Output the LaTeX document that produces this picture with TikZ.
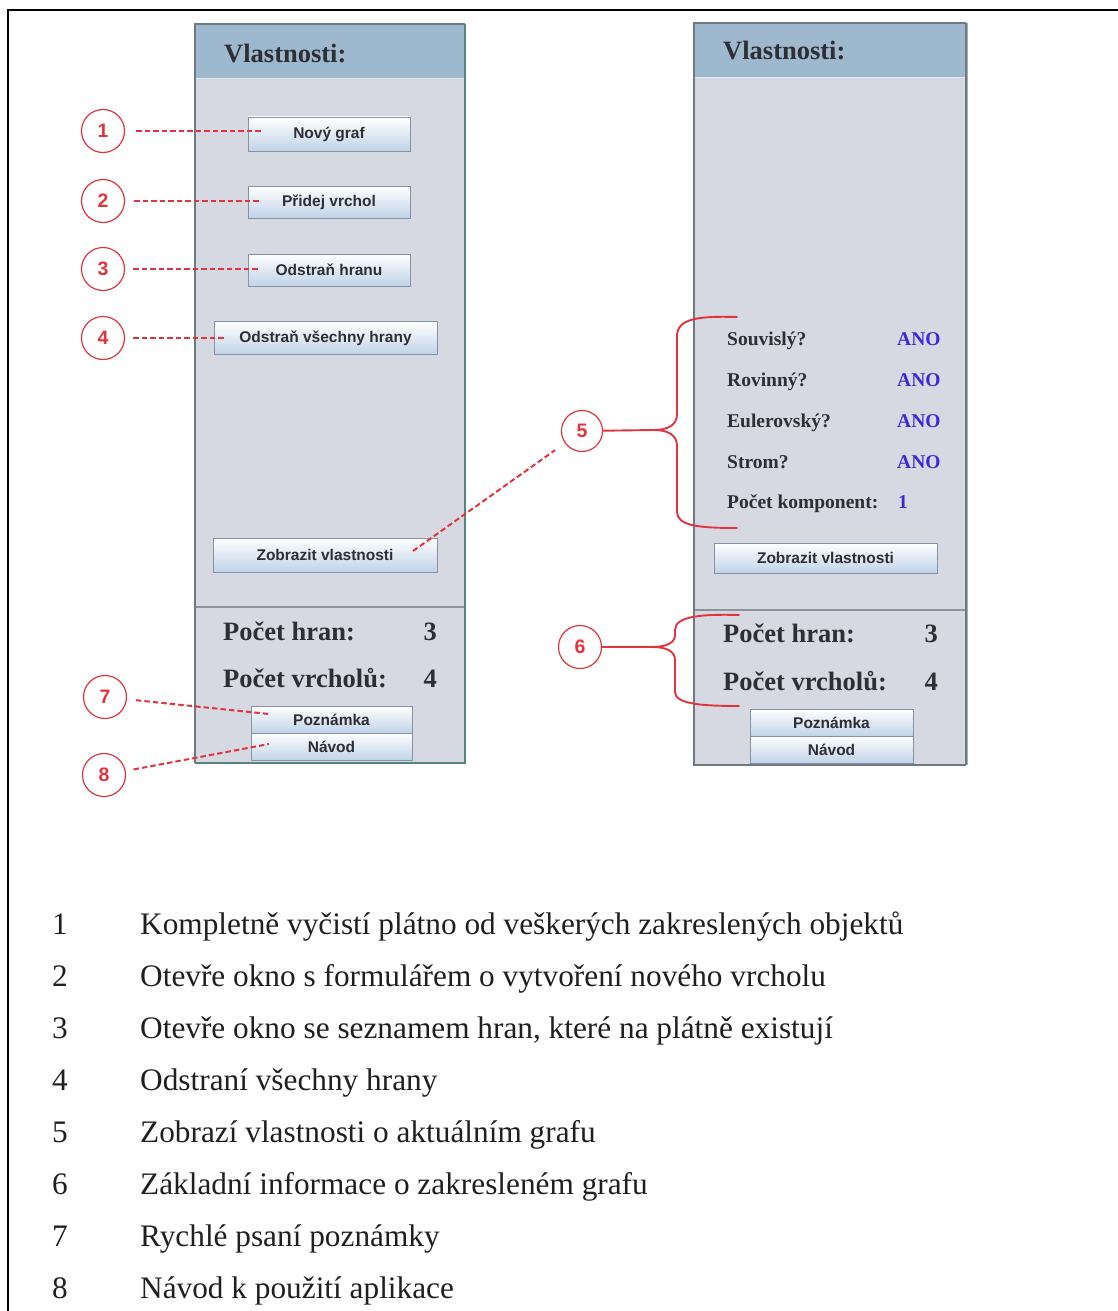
\documentclass[tikz,border=0pt]{standalone}
\usepackage{fontspec}
\setmainfont{Liberation Serif}
\newfontfamily\uifont{Liberation Sans}
\usetikzlibrary{calc}

\definecolor{hdr}{RGB}{158,184,206}
\definecolor{paneltint}{RGB}{214,217,226}
\definecolor{rim}{RGB}{112,120,128}
\definecolor{rimteal}{RGB}{84,132,124}
\definecolor{mark}{RGB}{226,52,62}
\definecolor{ano}{RGB}{62,40,215}
\definecolor{lbl}{RGB}{46,46,52}
\definecolor{btnb}{RGB}{132,148,166}
\definecolor{btnlo}{RGB}{192,211,231}

\tikzset{
  btn/.style={draw=btnb, line width=0.9, top color=white, bottom color=btnlo,
    inner sep=0, text=lbl, font=\uifont\bfseries\fontsize{15.5}{16}\selectfont},
  mk/.style={circle, draw=mark, line width=1.2, minimum size=43, inner sep=0,
    text=mark, font=\uifont\bfseries\fontsize{19.5}{19.5}\selectfont},
  lead/.style={draw=mark, line width=2, dash pattern=on 5.5pt off 3pt},
  bracepath/.style={draw=mark, line width=1.9, line cap=round},
  hd/.style={font=\bfseries\fontsize{26.5}{27}\selectfont, text=lbl, inner sep=0, anchor=base west},
  hdnum/.style={font=\bfseries\fontsize{26.5}{27}\selectfont, text=lbl, inner sep=0, anchor=base east},
  prop/.style={font=\bfseries\fontsize{19.5}{20}\selectfont, text=lbl, inner sep=0, anchor=base west},
  propval/.style={font=\bfseries\fontsize{19.5}{20}\selectfont, text=ano, inner sep=0, anchor=base west},
  legnum/.style={font=\fontsize{31.3}{31.3}\selectfont, text=black!88, inner sep=0, anchor=base},
  legtext/.style={font=\fontsize{31.3}{31.3}\selectfont, text=black!88, inner sep=0, anchor=base west},
}

\begin{document}
\begin{tikzpicture}[x=1pt,y=-1pt]
\useasboundingbox (0,0) rectangle (1118,1311);

% page frame
\draw[line width=2] (1118,10) -- (8,10) -- (8,1311);

% ---------- left panel ----------
\fill[paneltint] (195,24) rectangle (465,763);
\fill[hdr] (195,24) rectangle (465,78);
\draw[white!70!hdr, line width=1] (196,78.5) -- (464,78.5);
\draw[rim!80, line width=1.5] (195,607) -- (465,607);
\draw[rim, line width=2] (465,24) -- (195,24) -- (195,763);
\draw[rimteal, line width=2] (195,763) -- (465,763) -- (465,24);

\node[hd] (lt) at (224,63) {Vlastnosti:};

\node[btn, minimum width=162, minimum height=34] (b1) at (329,134) {Nový graf};
\node[btn, minimum width=162, minimum height=32] (b2) at (329,202) {Přidej vrchol};
\node[btn, minimum width=162, minimum height=32] (b3) at (329,270) {Odstraň hranu};
\node[btn, minimum width=223, minimum height=33] (b4) at (325.5,338) {Odstraň všechny hrany};
\node[btn, minimum width=224, minimum height=34] (b5) at (325,555) {Zobrazit vlastnosti};

\node[hd] (lh) at (223,640) {Počet hran:};
\node[hdnum] (lhv) at (437,640) {3};
\node[hd] (lv) at (223,687) {Počet vrcholů:};
\node[hdnum] (lvv) at (437,687) {4};

\node[btn, minimum width=161, minimum height=27] (b7) at (331.5,719.5) {Poznámka};
\node[btn, minimum width=161, minimum height=27] (b8) at (331.5,746.5) {Návod};

% ---------- right panel ----------
\fill[paneltint] (694,23) rectangle (966,765);
\fill[hdr] (694,23) rectangle (966,77);
\draw[white!70!hdr, line width=1] (695,77.5) -- (965,77.5);
\draw[rim!80, line width=1.5] (694,610) -- (966,610);
\draw[rim, line width=2] (966,23) -- (694,23) -- (694,765) -- (966,765);
\draw[rim, line width=2] (966,23) -- (966,765);
\draw[rimteal!60, line width=1] (967.5,23) -- (967.5,765);

\node[hd] (rt) at (723,60) {Vlastnosti:};

\node[prop] (p1) at (727,345) {Souvislý?};
\node[propval] (v1) at (897,345) {ANO};
\node[prop] (p2) at (727,386) {Rovinný?};
\node[propval] (v2) at (897,386) {ANO};
\node[prop] (p3) at (727,427) {Eulerovský?};
\node[propval] (v3) at (897,427) {ANO};
\node[prop] (p4) at (727,468) {Strom?};
\node[propval] (v4) at (897,468) {ANO};
\node[prop] (p5) at (727,508) {Počet komponent:};
\node[propval] (v5) at (898,508) {1};

\node[btn, minimum width=223, minimum height=30] (rb5) at (825.5,558) {Zobrazit vlastnosti};

\node[hd] (rh) at (723,642) {Počet hran:};
\node[hdnum] (rhv) at (938,642) {3};
\node[hd] (rv) at (723,690) {Počet vrcholů:};
\node[hdnum] (rvv) at (938,690) {4};

\node[btn, minimum width=163, minimum height=27] (rb7) at (831.5,722.5) {Poznámka};
\node[btn, minimum width=163, minimum height=27] (rb8) at (831.5,749.5) {Návod};

% ---------- numbered markers ----------
\node[mk] (c1) at (103,131) {1};
\node[mk] (c2) at (103,201) {2};
\node[mk] (c3) at (103,269) {3};
\node[mk] (c4) at (103,338) {4};
\node[mk] (c7) at (105,697) {7};
\node[mk] (c8) at (104,775) {8};
\node[mk, minimum size=41] (c5) at (582,431) {5};
\node[mk] (c6) at (580,647) {6};

% leader lines
\draw[lead, shorten <=11, shorten >=-15] (c1) -- (b1.west |- c1);
\draw[lead, shorten <=9, shorten >=-14] (c2) -- (b2.west |- c2);
\draw[lead, shorten <=8, shorten >=-10] (c3) -- (b3.west |- c3);
\draw[lead, shorten <=8, shorten >=-13] (c4) -- (b4.west |- c4);

\coordinate (z5) at (413,551);
\coordinate (z7) at (269,714);
\coordinate (z8) at (269,744);
\draw[lead, shorten >=12] (z5) -- (c5);
\draw[lead, shorten <=9] (c7) -- (z7);
\draw[lead, shorten <=8] (c8) -- (z8);

% braces
\coordinate (t5) at (654,430);
\draw[bracepath] (c5) -- (t5);
\draw[bracepath] (737,317) .. controls (700,316) and (677,318) .. (677,336)
  -- (677,414) .. controls (677,425) and (668,430) .. (t5)
  .. controls (668,430) and (677,435) .. (677,446)
  -- (677,512) .. controls (677,526) and (700,528) .. (737,528);

\coordinate (t6) at (652,647);
\draw[bracepath] (c6) -- (t6);
\draw[bracepath] (739,615) .. controls (702,614) and (675,616) .. (675,630)
  -- (675,635) .. controls (675,643) and (666,647) .. (t6)
  .. controls (666,647) and (675,651) .. (675,660)
  -- (675,692) .. controls (675,704) and (702,706) .. (739,706);

% ---------- legend ----------
\foreach \i/\t in {1/{Kompletně vyčistí plátno od veškerých zakreslených objektů},
                   2/{Otevře okno s formulářem o vytvoření nového vrcholu},
                   3/{Otevře okno se seznamem hran, které na plátně existují},
                   4/{Odstraní všechny hrany},
                   5/{Zobrazí vlastnosti o aktuálním grafu},
                   6/{Základní informace o zakresleném grafu},
                   7/{Rychlé psaní poznámky},
                   8/{Návod k použití aplikace}} {
  \node[legnum] (n\i) at (60,{934+52*(\i-1)}) {\i};
  \node[legtext] (d\i) at (140,{934+52*(\i-1)}) {\t};
}
\end{tikzpicture}
\end{document}
